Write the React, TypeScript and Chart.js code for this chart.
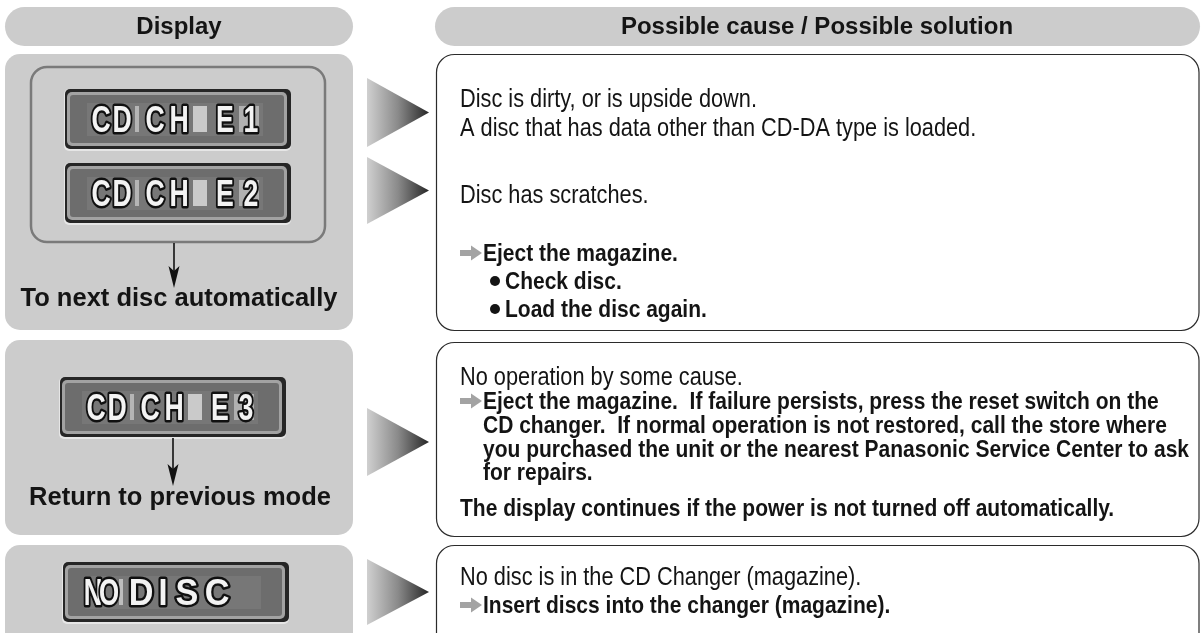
import React, { useEffect, useRef } from "react";
import { Chart, registerables } from "chart.js";

Chart.register(...registerables);

// ---------- content ----------
const headerLabels = ["Display", "Possible cause / Possible solution"];
const displayCodes = ["CDCH E1", "CDCH E2", "CDCH E3", "NO DISC"];
const displayNotes = ["To next disc automatically", "Return to previous mode"];

const causeRow1 = [
  "Disc is dirty, or is upside down.",
  "A disc that has data other than CD-DA type is loaded.",
  "Disc has scratches.",
];
const solutionRow1 = ["Eject the magazine.", "Check disc.", "Load the disc again."];

const causeRow2 = ["No operation by some cause."];
const solutionRow2 = [
  "Eject the magazine.  If failure persists, press the reset switch on the",
  "CD changer.  If normal operation is not restored, call the store where",
  "you purchased the unit or the nearest Panasonic Service Center to ask",
  "for repairs.",
];
const noteRow2 = ["The display continues if the power is not turned off automatically."];

const causeRow3 = ["No disc is in the CD Changer (magazine)."];
const solutionRow3 = ["Insert discs into the changer (magazine)."];

// ---------- drawing helpers ----------
const FAM = '"Liberation Sans", Arial, Helvetica, sans-serif';
const REG = `25px ${FAM}`;
const BOLD = `bold 24px ${FAM}`;
const REG_SX = 0.87;
const BOLD_SX = 0.875;
const INK = "#141414";

function text(ctx: CanvasRenderingContext2D, s: string, x: number, y: number, font: string, sx = 1, align: CanvasTextAlign = "left", color = INK) {
  ctx.save();
  ctx.font = font;
  ctx.fillStyle = color;
  ctx.textAlign = align;
  ctx.textBaseline = "alphabetic";
  ctx.translate(x, y);
  ctx.scale(sx, 1);
  ctx.fillText(s, 0, 0);
  ctx.restore();
}

function rr(ctx: CanvasRenderingContext2D, x: number, y: number, w: number, h: number, r: number) {
  ctx.beginPath();
  (ctx as any).roundRect(x, y, w, h, r);
}

function lcdChar(ctx: CanvasRenderingContext2D, s: string, cx: number, base: number, sx: number) {
  ctx.save();
  ctx.font = `bold 36px ${FAM}`;
  ctx.textAlign = "center";
  ctx.textBaseline = "alphabetic";
  ctx.translate(cx, base);
  ctx.scale(sx, 1);
  ctx.lineJoin = "round";
  ctx.strokeStyle = "#101010";
  ctx.lineWidth = 5;
  ctx.strokeText(s, 0, 0);
  ctx.fillStyle = "#f3f3f3";
  ctx.fillText(s, 0, 0);
  ctx.restore();
}

function drawLCD(ctx: CanvasRenderingContext2D, code: string, x: number, y: number, w: number, h: number) {
  ctx.fillStyle = "#e6e6e6";
  rr(ctx, x - 1, y, w + 1, h + 1, 5);
  ctx.fill();
  ctx.fillStyle = "#262626";
  rr(ctx, x, y, w, h - 1, 5);
  ctx.fill();
  ctx.fillStyle = "#a2a2a2";
  rr(ctx, x + 2, y + 3, w - 6, h - 7, 5);
  ctx.fill();
  ctx.fillStyle = "#6d6d6d";
  rr(ctx, x + 5, y + 6, w - 12, h - 13, 3);
  ctx.fill();
  ctx.fillStyle = "#777777";
  ctx.fillRect(x + 22, y + 14, w - 50, h - 28);

  const base = y + 43;
  if (code.startsWith("NO")) {
    const [a, b] = code.split(" ");
    ctx.fillStyle = "#bdbdbd";
    ctx.fillRect(x + 56, y + 17, 4, 26);
    const cellsA = [30, 46];
    a.split("").forEach((c, i) => lcdChar(ctx, c, x + cellsA[i], base, 0.72));
    const cellsB = [78, 100, 124, 154];
    b.split("").forEach((c, i) => lcdChar(ctx, c, x + cellsB[i], base, i === 1 ? 0.9 : 0.95));
  } else {
    const [a, b] = code.split(" ");
    ctx.fillStyle = "#b5b5b5";
    ctx.fillRect(x + 70, y + 17, 4, 26);
    ctx.fillStyle = "#cacaca";
    ctx.fillRect(x + 128, y + 17, 14, 26);
    ctx.fillStyle = "#b0b0b0";
    ctx.fillRect(x + 174, y + 17, 20, 26);
    const cellsA = [36, 57, 90, 114];
    a.split("").forEach((c, i) => lcdChar(ctx, c, x + cellsA[i], base, 0.74));
    const cellsB = [160, 186];
    b.split("").forEach((c, i) => lcdChar(ctx, c, x + cellsB[i], base, 0.74));
  }
}

function triangle(ctx: CanvasRenderingContext2D, x0: number, x1: number, cy: number, half: number) {
  const g = ctx.createLinearGradient(x0, 0, x1, 0);
  g.addColorStop(0, "#d0d0d0");
  g.addColorStop(0.5, "#8a8a8a");
  g.addColorStop(1, "#262626");
  ctx.fillStyle = g;
  ctx.beginPath();
  ctx.moveTo(x0, cy - half);
  ctx.lineTo(x1, cy);
  ctx.lineTo(x0, cy + half);
  ctx.closePath();
  ctx.fill();
}

function downArrow(ctx: CanvasRenderingContext2D, x: number, y0: number, y1: number) {
  ctx.strokeStyle = "#111";
  ctx.lineWidth = 1.6;
  ctx.beginPath();
  ctx.moveTo(x, y0);
  ctx.lineTo(x, y1 - 6);
  ctx.stroke();
  ctx.fillStyle = "#111";
  ctx.beginPath();
  ctx.moveTo(x - 5.5, y1 - 22);
  ctx.lineTo(x, y1 - 17);
  ctx.lineTo(x + 5.5, y1 - 22);
  ctx.lineTo(x, y1);
  ctx.closePath();
  ctx.fill();
}

function fatArrow(ctx: CanvasRenderingContext2D, x: number, base: number) {
  const cy = base - 8;
  ctx.fillStyle = "#a3a3a3";
  ctx.fillRect(x, cy - 3, 12, 6);
  ctx.beginPath();
  ctx.moveTo(x + 11, cy - 7.5);
  ctx.lineTo(x + 22, cy);
  ctx.lineTo(x + 11, cy + 7.5);
  ctx.closePath();
  ctx.fill();
}

function bullet(ctx: CanvasRenderingContext2D, x: number, base: number) {
  ctx.fillStyle = INK;
  ctx.beginPath();
  ctx.arc(x, base - 8, 5, 0, Math.PI * 2);
  ctx.fill();
}

const tablePlugin = {
  id: "troubleTable",
  beforeDraw(chart: any) {
    const ctx: CanvasRenderingContext2D = chart.ctx;
    ctx.save();
    ctx.fillStyle = "#ffffff";
    ctx.fillRect(0, 0, chart.width, chart.height);
    ctx.restore();
  },
  afterDraw(chart: any) {
    const ctx: CanvasRenderingContext2D = chart.ctx;
    const X = (v: number) => chart.scales.x.getPixelForValue(v);
    const Y = (v: number) => chart.scales.y.getPixelForValue(v);
    ctx.save();

    // header pills
    ctx.fillStyle = "#cccccc";
    rr(ctx, X(5), Y(7), X(353) - X(5), Y(46) - Y(7), 19.5);
    ctx.fill();
    rr(ctx, X(435), Y(7), X(1200) - X(435), Y(46) - Y(7), 19.5);
    ctx.fill();
    text(ctx, headerLabels[0], X(179), Y(34), `bold 24px ${FAM}`, 1, "center");
    text(ctx, headerLabels[1], X(817), Y(34), `bold 24px ${FAM}`, 1, "center");

    // left gray boxes
    const leftRows = [
      [54, 330],
      [340, 535],
      [545, 660],
    ];
    ctx.fillStyle = "#cccccc";
    leftRows.forEach(([t, b]) => {
      rr(ctx, X(5), Y(t), X(353) - X(5), Y(b) - Y(t), 15);
      ctx.fill();
    });

    // inner group frame (row 1)
    ctx.strokeStyle = "#7a7a7a";
    ctx.lineWidth = 2.5;
    rr(ctx, X(31), Y(67), X(325) - X(31), Y(242) - Y(67), 16);
    ctx.stroke();

    // LCDs
    const lcdPos = [
      [65, 89],
      [65, 163],
      [60, 377],
      [63, 562],
    ];
    displayCodes.forEach((code, i) => {
      const [lx, ly] = lcdPos[i];
      drawLCD(ctx, code, X(lx), Y(ly), 226, 61);
    });

    // down arrows & notes
    downArrow(ctx, X(174), Y(243), Y(288));
    downArrow(ctx, X(173), Y(438), Y(486));
    text(ctx, displayNotes[0], X(179), Y(306), `bold 25.5px ${FAM}`, 1, "center");
    text(ctx, displayNotes[1], X(180), Y(505), `bold 25.5px ${FAM}`, 1, "center");

    // triangles
    triangle(ctx, X(367), X(429), Y(112.5), 34.5);
    triangle(ctx, X(367), X(429), Y(190.5), 33.5);
    triangle(ctx, X(367), X(429), Y(442), 34);
    triangle(ctx, X(367), X(429), Y(592), 33);

    // right boxes
    ctx.strokeStyle = "#2b2b2b";
    ctx.lineWidth = 1.2;
    const rightRows = [
      [54, 330],
      [342, 536],
      [545, 680],
    ];
    rightRows.forEach(([t, b]) => {
      rr(ctx, X(436.5), Y(t) + 0.5, X(1199) - X(436.5), Y(b) - Y(t), 18);
      ctx.stroke();
    });

    // row 1 text
    const r1 = [107, 136, 203];
    causeRow1.forEach((s, i) => text(ctx, s, X(460), Y(r1[i]), REG, REG_SX));
    fatArrow(ctx, X(460), Y(261));
    text(ctx, solutionRow1[0], X(483), Y(261), BOLD, BOLD_SX);
    [289, 317].forEach((b, i) => {
      bullet(ctx, X(495), Y(b));
      text(ctx, solutionRow1[i + 1], X(505), Y(b), BOLD, BOLD_SX);
    });

    // row 2 text
    text(ctx, causeRow2[0], X(460), Y(385), REG, REG_SX);
    fatArrow(ctx, X(460), Y(409));
    const r2 = [409, 433, 457, 480];
    solutionRow2.forEach((s, i) => text(ctx, s, X(483), Y(r2[i]), BOLD, BOLD_SX));
    text(ctx, noteRow2[0], X(460), Y(516), BOLD, BOLD_SX);

    // row 3 text
    text(ctx, causeRow3[0], X(460), Y(585), REG, REG_SX);
    fatArrow(ctx, X(460), Y(613));
    text(ctx, solutionRow3[0], X(483), Y(613), BOLD, BOLD_SX);

    ctx.restore();
  },
};

export default function App() {
  const ref = useRef<HTMLCanvasElement | null>(null);
  useEffect(() => {
    if (!ref.current) return;
    const chart = new Chart(ref.current, {
      type: "scatter",
      data: { datasets: [] },
      options: {
        animation: false,
        responsive: false,
        devicePixelRatio: 1,
        events: [],
        layout: { padding: 0 },
        plugins: { legend: { display: false }, tooltip: { enabled: false } },
        scales: {
          x: { type: "linear", min: 0, max: 1204, display: false },
          y: { type: "linear", min: 0, max: 633, reverse: true, display: false },
        },
      },
      plugins: [tablePlugin],
    } as any);
    return () => chart.destroy();
  }, []);
  return (
    <div style={{ position: "absolute", left: 0, top: 0, width: 1204, height: 633 }}>
      <canvas ref={ref} width={1204} height={633} style={{ display: "block" }} />
    </div>
  );
}
